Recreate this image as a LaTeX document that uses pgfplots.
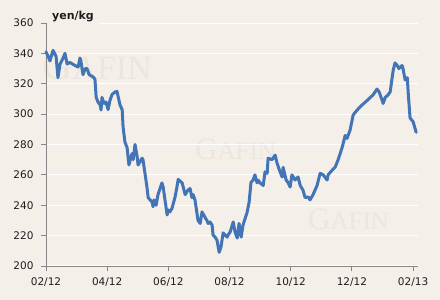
\documentclass[border=0pt]{standalone}
\usepackage{fontspec}
\setmainfont{DejaVu Sans}
\newfontfamily\wmfont{Liberation Serif}
\usepackage{pgfplots}
\pgfplotsset{compat=1.18}
\definecolor{bg}{RGB}{245,239,233}
\definecolor{wm}{RGB}{236,230,223}
\definecolor{series}{RGB}{66,116,182}
\definecolor{axgray}{RGB}{134,134,134}
\definecolor{txt}{RGB}{30,30,30}
\newcommand{\wmark}[2]{{\wmfont\fontsize{#1}{#1}\selectfont G\fontsize{#2}{#2}\selectfont AFIN}}
\begin{document}
\begin{tikzpicture}
\path[use as bounding box, fill=bg] (-46pt,-34pt) rectangle (394pt,266pt);
\node[text=wm, anchor=south west, inner sep=0pt] at (-4pt,186pt) {\wmark{42}{34}};
\node[text=wm, anchor=south west, inner sep=0pt] at (149pt,106pt) {\wmark{31}{25}};
\node[text=wm, anchor=south west, inner sep=0pt] at (262pt,36pt) {\wmark{31}{25}};
\begin{axis}[
  at={(0pt,0pt)}, anchor=south west,
  scale only axis, width=372pt, height=243pt,
  xmin=0, xmax=12.16, ymin=200, ymax=360,
  axis x line=bottom, axis y line=left,
  axis line style={draw=axgray, line width=0.9pt, -},
  xtick={0,2,4,6,8,10,12},
  xticklabels={02/12,04/12,06/12,08/12,10/12,12/12,02/13},
  ytick={200,220,240,260,280,300,320,340,360},
  tick style={draw=axgray, line width=0.9pt},
  tick align=outside, major tick length=5pt,
  ymajorgrids, grid style={white, line width=1pt},
  tick label style={text=txt, font=\fontsize{10.5}{12}\selectfont},
  /pgf/number format/assume math mode=true,
  xticklabel style={yshift=-3pt},
  yticklabel style={xshift=-4pt},
  axis background/.style={fill=none},
  clip=false,
]
\addplot[series, line width=3pt, line join=round, line cap=round] coordinates {
(0.00,341) (0.07,338) (0.13,335) (0.23,342) (0.33,338) (0.39,324) (0.46,333)
(0.56,337) (0.62,340) (0.69,333) (0.78,334) (0.95,332) (1.05,331) (1.11,337)
(1.14,335) (1.21,326) (1.28,330) (1.34,330) (1.41,326) (1.54,324.5) (1.60,323)
(1.64,311) (1.70,308) (1.77,306) (1.80,302.7) (1.83,311) (1.90,307) (1.96,308)
(2.03,303) (2.09,309) (2.16,313) (2.26,314.6) (2.32,315) (2.42,306) (2.49,303)
(2.52,291.5) (2.58,281.6) (2.65,278) (2.71,266.5) (2.81,274) (2.85,270)
(2.91,280) (2.98,272) (3.01,266.5) (3.14,271) (3.17,270) (3.30,252) (3.34,245)
(3.47,242) (3.50,239) (3.53,243.5) (3.60,240) (3.66,247) (3.79,254.7)
(3.83,252) (3.96,233.6) (3.99,237) (4.05,235.6) (4.12,238) (4.22,245.5)
(4.28,252) (4.32,257) (4.45,254.7) (4.55,247) (4.64,250) (4.71,251) (4.77,245)
(4.81,247) (4.87,243.5) (4.97,230) (5.04,228) (5.10,235.6) (5.20,232) (5.26,230)
(5.30,228) (5.36,229) (5.43,227) (5.46,220.4) (5.53,219) (5.59,217) (5.66,209)
(5.72,212.5) (5.79,221.8) (5.85,220.4) (5.92,219) (5.95,220.4) (6.02,222.4)
(6.12,229) (6.18,222.4) (6.25,218.4) (6.31,228) (6.38,219) (6.44,227) (6.57,235)
(6.64,242) (6.70,255) (6.77,256.6) (6.83,260) (6.90,254.7) (6.93,256.6)
(7.00,254.7) (7.10,253) (7.16,262) (7.23,261) (7.26,271) (7.39,270) (7.49,273)
(7.55,268) (7.65,262) (7.72,258.6) (7.75,265) (7.85,256.6) (7.91,255) (7.98,252)
(8.04,260) (8.14,256.6) (8.24,258.6) (8.31,253) (8.40,250) (8.47,245) (8.57,245.5)
(8.63,243.5) (8.73,247) (8.86,253) (8.96,261) (9.06,260) (9.19,256.6) (9.22,260)
(9.35,263) (9.45,265) (9.55,270) (9.68,278) (9.78,286) (9.84,284) (9.94,289.5)
(10.04,299.4) (10.17,302.7) (10.33,306) (10.50,309) (10.60,311) (10.69,312.6)
(10.82,316.5) (10.89,314.6) (10.99,309) (11.02,307) (11.09,311) (11.18,312.6)
(11.25,314.6) (11.35,329) (11.41,333.7) (11.48,332) (11.54,330) (11.64,332)
(11.67,330) (11.74,322.5) (11.81,324) (11.84,314) (11.90,297.5) (12.00,295)
(12.10,288)
};
\end{axis}
\node[anchor=base west, fill=bg, inner xsep=5pt, inner ysep=2pt, text=txt,
  font=\bfseries\fontsize{11}{13}\selectfont] at (1pt,246pt) {yen/kg};
\end{tikzpicture}
\end{document}
